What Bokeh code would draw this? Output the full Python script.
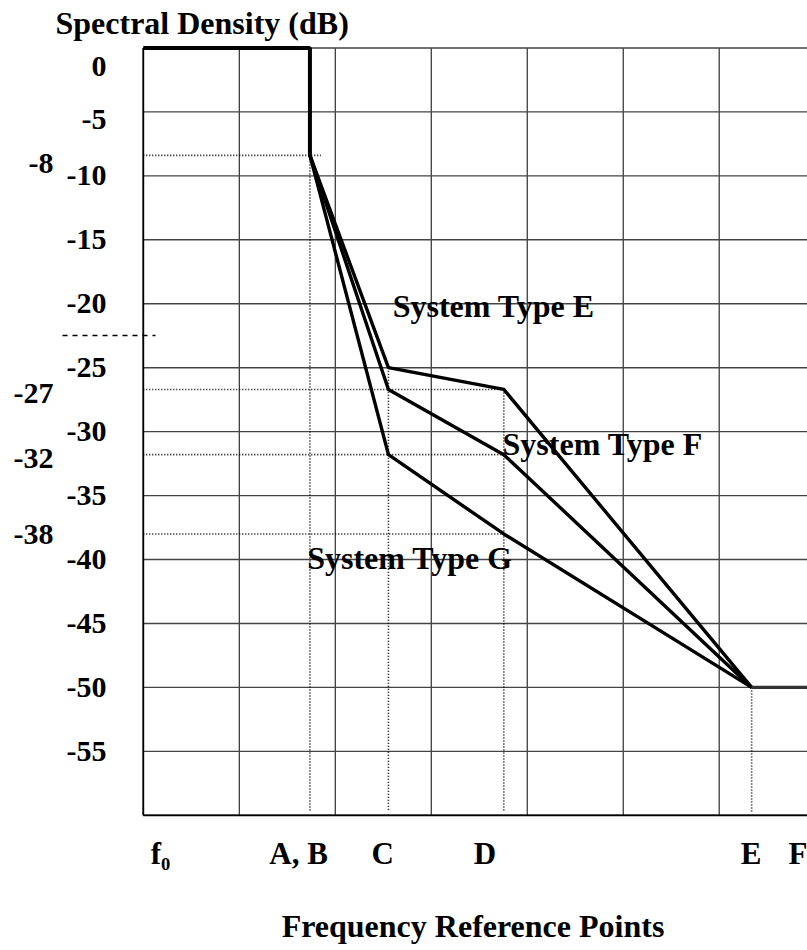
from bokeh.plotting import figure
from bokeh.models import Range1d, FixedTicker, LinearAxis, ColumnDataSource
from bokeh.core.properties import value
from bokeh.embed import file_html
from bokeh.resources import INLINE

# ---------------- data ----------------
# frequency reference points (x in grid units)
X_AB, X_C, X_D, X_E, X_END = 1.736, 2.554, 3.756, 6.338, 7.0
Y_KNEE = -8.4
PASSBAND_X = [0.0, X_AB, X_AB]
PASSBAND_Y = [0.0, 0.0, Y_KNEE]
SLOPE_X = [X_AB, X_C, X_D, X_E]
TYPE_E_Y = [Y_KNEE, -25.0, -26.7, -50.0]
TYPE_F_Y = [Y_KNEE, -26.7, -31.8, -50.0]
TYPE_G_Y = [Y_KNEE, -31.8, -38.0, -50.0]
FLOOR_X = [X_E, X_END]
FLOOR_Y = [-50.0, -50.0]
REF_LEVEL = -22.5
GRID_X = [0, 1, 2, 3, 4, 5, 6]
GRID_Y = [0, -5, -10, -15, -20, -25, -30, -35, -40, -45, -50, -55, -60]
Y_TICK_LABELS = ["0", "-5", "-10", "-15", "-20", "-25", "-30", "-35", "-40", "-45", "-50", "-55"]
X_TICK_LABELS = ["f\u2080", "A, B", "C", "D", "E", "F"]
SIDE_LABELS = ["-8", "-27", "-32", "-38"]
SERIES_NAMES = ["System Type E", "System Type F", "System Type G"]
TITLE = "Spectral  Density (dB)"
X_TITLE = "Frequency Reference Points"

# ---------------- layout ----------------
FONT = "Liberation Serif"
Y_TICK_POS = [-1.43, -5.57, -10, -15, -20, -25, -30, -35, -40, -45, -50, -55]
X_TICK_POS = [0.18, 1.618, 2.493, 3.559, 6.331, 6.835]
SIDE_TICK_POS = [-9.05, -26.98, -32.13, -38.03]
SERIES_LABEL_POS = [(2.598, -20.18), (3.743, -30.94), (1.707, -39.87)]
DASH_OUT, DASH_IN = 76, 17

p = figure(width=807, height=949,
           x_range=Range1d(-0.05, 6.92), y_range=Range1d(-60.25, 0.35),
           output_backend="svg", toolbar_location=None,
           min_border_left=138, min_border_right=0,
           min_border_top=42, min_border_bottom=131)
p.xgrid.visible = False
p.ygrid.visible = False
p.outline_line_color = None
p.background_fill_color = "white"

# title
p.title.text = TITLE
p.title.text_font = FONT
p.title.text_font_style = "bold"
p.title.text_font_size = "32px"
p.title.text_color = "black"
p.title.align = "left"
p.title.offset = -83
p.title.standoff = 5

# grid
n_v = len(GRID_X)
p.segment(x0=GRID_X, y0=[GRID_Y[-1]] * n_v, x1=GRID_X, y1=[GRID_Y[0]] * n_v,
          line_color="#1a1a1a", line_width=1.1)
n_h = len(GRID_Y)
p.segment(x0=[GRID_X[0]] * n_h, y0=GRID_Y, x1=[X_END] * n_h, y1=GRID_Y,
          line_color="#444444", line_width=1.4)
# frame edges (left, bottom)
p.segment(x0=[GRID_X[0], GRID_X[0]], y0=[GRID_Y[-1], GRID_Y[-1]],
          x1=[GRID_X[0], X_END], y1=[GRID_Y[0], GRID_Y[-1]],
          line_color="black", line_width=1.8)

# dotted reference lines
dot = dict(line_color="black", line_width=1.6, line_dash="1 2")
p.segment(x0=[0, 0, 0, 0], y0=[Y_KNEE, TYPE_F_Y[1], TYPE_F_Y[2], TYPE_G_Y[2]],
          x1=[X_AB + 0.116, X_D, X_D, X_D], y1=[Y_KNEE, TYPE_F_Y[1], TYPE_F_Y[2], TYPE_G_Y[2]], **dot)
p.segment(x0=[X_AB, X_C, X_D, X_E], y0=[Y_KNEE, TYPE_E_Y[1], TYPE_E_Y[2], FLOOR_Y[0]],
          x1=[X_AB, X_C, X_D, X_E], y1=[-59.7] * 4, **dot)

# spectral curves
p.line(PASSBAND_X, PASSBAND_Y, line_color="black", line_width=4)
for ys in (TYPE_E_Y, TYPE_F_Y, TYPE_G_Y):
    p.line(SLOPE_X, ys, line_color="black", line_width=3.4)
p.line(FLOOR_X, FLOOR_Y, line_color="#333333", line_width=3.2)

# series labels
src = ColumnDataSource(dict(x=[q[0] for q in SERIES_LABEL_POS],
                            y=[q[1] for q in SERIES_LABEL_POS],
                            t=SERIES_NAMES))
p.text(x="x", y="y", text="t", source=src, text_font=value(FONT),
       text_font_style="bold", text_font_size="32px", text_color="black",
       text_align="left", text_baseline="alphabetic")


def style_axis(ax, size):
    ax.axis_line_color = None
    ax.major_tick_line_color = None
    ax.minor_tick_line_color = None
    ax.major_label_text_font = FONT
    ax.major_label_text_font_style = "bold"
    ax.major_label_text_font_size = size
    ax.major_label_text_color = "black"


# main y axis (dB values) + dashed reference level drawn as its minor tick
yax = p.yaxis[0]
style_axis(yax, "30px")
yax.ticker = FixedTicker(ticks=Y_TICK_POS, minor_ticks=[REF_LEVEL])
yax.major_label_overrides = {pos: lab for pos, lab in zip(Y_TICK_POS, Y_TICK_LABELS)}
yax.major_label_standoff = 32 - DASH_OUT
yax.minor_tick_line_color = "black"
yax.minor_tick_line_width = 1.3
yax.minor_tick_line_dash = "5 5"
yax.minor_tick_out = DASH_OUT
yax.minor_tick_in = DASH_IN

# outer y axis with the break-point levels
side = LinearAxis(ticker=FixedTicker(ticks=SIDE_TICK_POS),
                  major_label_overrides={pos: lab for pos, lab in zip(SIDE_TICK_POS, SIDE_LABELS)},
                  major_label_standoff=4)
style_axis(side, "30px")
p.add_layout(side, "left")

# x axis
xax = p.xaxis[0]
style_axis(xax, "31px")
xax.ticker = FixedTicker(ticks=X_TICK_POS)
xax.major_label_overrides = {pos: lab for pos, lab in zip(X_TICK_POS, X_TICK_LABELS)}
xax.major_label_standoff = 11
xax.axis_label = X_TITLE
xax.axis_label_text_font = FONT
xax.axis_label_text_font_style = "bold"
xax.axis_label_text_font_size = "32px"
xax.axis_label_text_color = "black"
xax.axis_label_standoff = 34

open("out.html", "w").write(file_html(p, INLINE))
